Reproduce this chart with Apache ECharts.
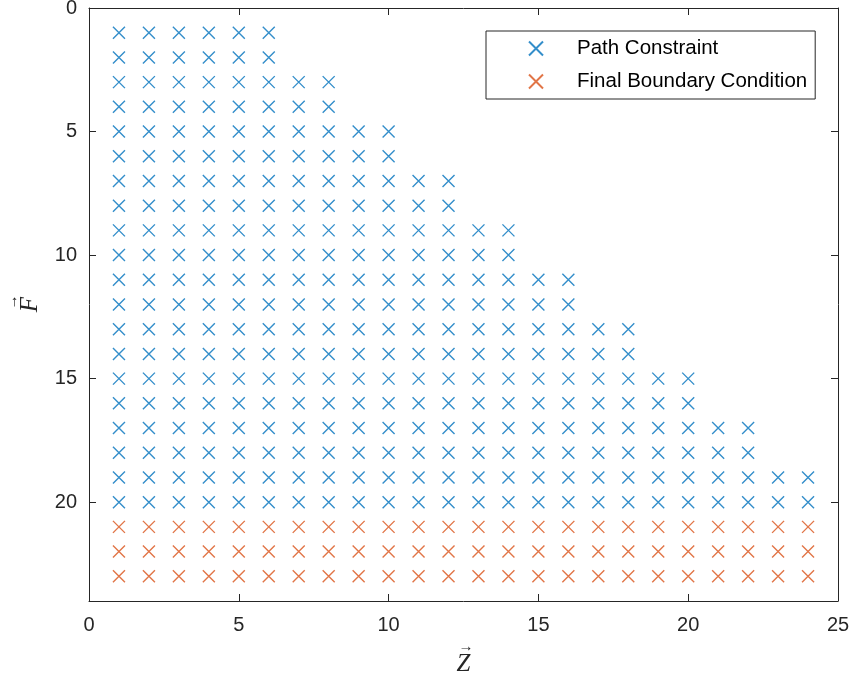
<!DOCTYPE html>
<html>
<head>
<meta charset="utf-8">
<script src="https://cdn.jsdelivr.net/npm/echarts@6/dist/echarts.min.js"></script>
<style>
  html, body { margin: 0; padding: 0; background: #fff; }
  #chart { width: 853px; height: 677px; }
</style>
</head>
<body>
<div id="chart"></div>
<script>
// Grid of (Z, F) pairs: path-constraint rows and final-boundary rows
const pathRows = [1, 2, 3, 4, 5, 6, 7, 8, 9, 10, 11, 12, 13, 14, 15, 16, 17, 18, 19, 20];
const pathRowMaxZ = [6, 6, 8, 8, 10, 10, 12, 12, 14, 14, 16, 16, 18, 18, 20, 20, 22, 22, 24, 24];
const finalRows = [21, 22, 23];
const finalRowMaxZ = [24, 24, 24];
const xTicks = [0, 5, 10, 15, 20, 25];
const yTicks = [0, 5, 10, 15, 20];

function rowsToPoints(rows, maxZ) {
  const pts = [];
  rows.forEach((f, i) => {
    for (let z = 1; z <= maxZ[i]; z++) pts.push([z, f]);
  });
  return pts;
}
const pathPoints = rowsToPoints(pathRows, pathRowMaxZ);
const finalPoints = rowsToPoints(finalRows, finalRowMaxZ);

const axisColor = '#262626';
const cross = 'path://M0,0L10,10M10,0L0,10';
const font = 'Liberation Sans, Arial, sans-serif';
const serif = 'Liberation Serif, Times New Roman, serif';

// vector-style axis names: small arrow above an italic letter
const vecRich = {
  arr: { fontFamily: serif, fontSize: 15, lineHeight: 10, color: axisColor, padding: [0, 0, 0, 5] },
  v: { fontFamily: serif, fontStyle: 'italic', fontSize: 25, lineHeight: 24, color: axisColor }
};

const chart = echarts.init(document.getElementById('chart'), null, { renderer: 'canvas' });

const baseAxis = {
  axisLine: { show: true, onZero: false, lineStyle: { color: axisColor, width: 1 } },
  axisTick: { show: true, inside: true, length: 7, lineStyle: { color: axisColor } },
  splitLine: { show: false },
  axisLabel: { color: axisColor, fontSize: 20, fontFamily: font }
};

chart.setOption({
  animation: false,
  backgroundColor: '#fff',
  grid: { left: 89, right: 15, top: 8, bottom: 76, containLabel: false, outerBoundsMode: 'none' },
  xAxis: [
    Object.assign({}, baseAxis, {
      type: 'value', min: xTicks[0], max: xTicks[xTicks.length - 1], interval: 5,
      name: '{arr|\u2192}\n{v|Z}', nameLocation: 'middle', nameGap: 39,
      nameTextStyle: { rich: vecRich, align: 'center' },
      axisLabel: Object.assign({}, baseAxis.axisLabel, { margin: 14 })
    }),
    Object.assign({}, baseAxis, {
      type: 'value', position: 'top', min: xTicks[0], max: xTicks[xTicks.length - 1], interval: 5,
      axisLabel: { show: false }
    })
  ],
  yAxis: [
    Object.assign({}, baseAxis, {
      type: 'value', inverse: true, min: 0, max: 24, interval: 5,
      name: '{arr|\u2192}\n{v|F}', nameLocation: 'middle', nameGap: 47, nameRotate: 90,
      nameTextStyle: { rich: vecRich, align: 'center' },
      axisLabel: Object.assign({}, baseAxis.axisLabel, {
        margin: 12,
        formatter: v => (yTicks.indexOf(v) >= 0 ? String(v) : '')
      })
    }),
    Object.assign({}, baseAxis, {
      type: 'value', position: 'right', inverse: true, min: 0, max: 24, interval: 5,
      axisLabel: { show: false }
    })
  ],
  legend: {
    orient: 'vertical',
    left: 486, top: 31,
    padding: [7, 8, 7, 42],
    itemGap: 12,
    itemWidth: 14, itemHeight: 14,
    borderColor: axisColor, borderWidth: 1,
    backgroundColor: '#fff',
    textStyle: { fontSize: 20.5, lineHeight: 20, fontFamily: font, color: '#000', padding: [0, 0, 0, 29] },
    data: ['Path Constraint', 'Final Boundary Condition']
  },
  series: [
    {
      name: 'Path Constraint', type: 'scatter', data: pathPoints,
      symbol: cross, symbolSize: 12,
      itemStyle: { color: 'transparent', borderColor: '#0072BD', borderWidth: 1.4 }
    },
    {
      name: 'Final Boundary Condition', type: 'scatter', data: finalPoints,
      symbol: cross, symbolSize: 12,
      itemStyle: { color: 'transparent', borderColor: '#D95319', borderWidth: 1.4 }
    }
  ]
});
</script>
</body>
</html>
